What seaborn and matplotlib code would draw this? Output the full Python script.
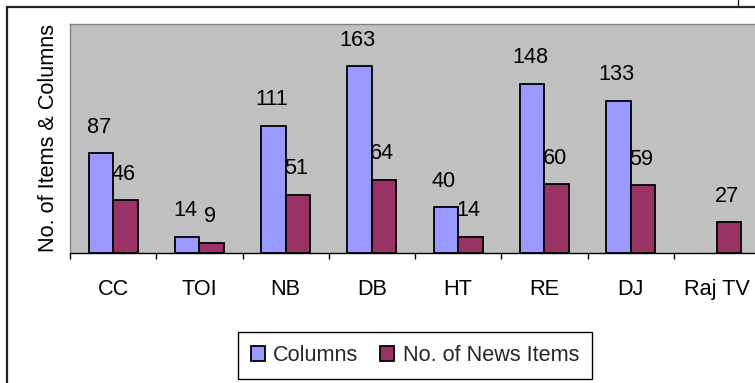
import matplotlib
matplotlib.use("Agg")
import matplotlib.pyplot as plt
from matplotlib.lines import Line2D
from matplotlib.patches import Patch
import seaborn as sns
import pandas as pd
import numpy as np

categories = ["CC", "TOI", "NB", "DB", "HT", "RE", "DJ", "Raj TV"]
columns_vals = [87, 14, 111, 163, 40, 148, 133, 0]
news_vals = [46, 9, 51, 64, 14, 60, 59, 27]
series_names = ["Columns", "No. of News Items"]
colors = ["#9999FF", "#993366"]

df = pd.DataFrame({
    "cat": categories * 2,
    "val": columns_vals + news_vals,
    "series": [series_names[0]] * len(categories) + [series_names[1]] * len(categories),
})

sns.set_theme(style="white")
plt.rcParams["font.family"] = ["Liberation Sans", "DejaVu Sans"]
FS = 15.6

W, H = 755, 383
fig = plt.figure(figsize=(W / 100, H / 100), dpi=100)
left, right, top, bottom = 70, 760, 24, 253
ax = fig.add_axes([left / W, 1 - bottom / H, (right - left) / W, (bottom - top) / H])

sns.barplot(data=df, x="cat", y="val", hue="series", order=categories,
            hue_order=series_names, palette=colors, width=0.568, gap=0,
            edgecolor="black", linewidth=1.3, ax=ax, legend=False, saturation=1)

ax.set_facecolor("#C0C0C0")
ax.set_ylim(0, 200)
ax.set_xlim(-0.5, len(categories) - 0.5)
ax.set_yticks([])
ax.set_ylabel("No. of Items & Columns", fontsize=FS, color="black", labelpad=8)
ax.set_xlabel("")
ax.tick_params(axis="x", which="major", length=0, pad=18.5, labelsize=FS, labelcolor="black")
ax.set_xticks(np.arange(-0.5, len(categories), 1.0), minor=True)
ax.tick_params(axis="x", which="minor", length=4.5, width=1, color="black", direction="out", bottom=True)

for s in ["left", "top", "right"]:
    ax.spines[s].set_color("#808080")
    ax.spines[s].set_linewidth(1.0)
ax.spines["bottom"].set_color("black")
ax.spines["bottom"].set_linewidth(1.0)

for cont in ax.containers:
    for bar in cont:
        h = bar.get_height()
        if not np.isfinite(h) or h == 0:
            bar.set_linewidth(0)
            continue
        xc = bar.get_x() + bar.get_width() / 2
        ax.annotate(f"{int(round(h))}", (xc, h), xytext=(-2, 26), textcoords="offset pixels",
                    ha="center", va="center", fontsize=FS, color="black")

handles = [Patch(facecolor=c, edgecolor="black", linewidth=1.3) for c in colors]
leg = fig.legend(handles, series_names, loc="center", bbox_to_anchor=(415 / W, 1 - 355.5 / H),
                 ncol=2, fontsize=FS, frameon=True, fancybox=False, framealpha=1,
                 edgecolor="black", handlelength=0.65, handleheight=0.75, handletextpad=0.4,
                 columnspacing=1.0, borderpad=0.6)
leg.get_frame().set_linewidth(1.0)

# outer chart frame
fig.add_artist(Line2D([6.5, W], [H - 7, H - 7], transform=None, color="#222222", linewidth=1.6))
fig.add_artist(Line2D([6.5, 6.5], [0, H - 7], transform=None, color="#222222", linewidth=1.6))
fig.add_artist(Line2D([738, 738], [H - 7, H], transform=None, color="#222222", linewidth=1.0))

fig.savefig("out.png", dpi=100, facecolor="white")
